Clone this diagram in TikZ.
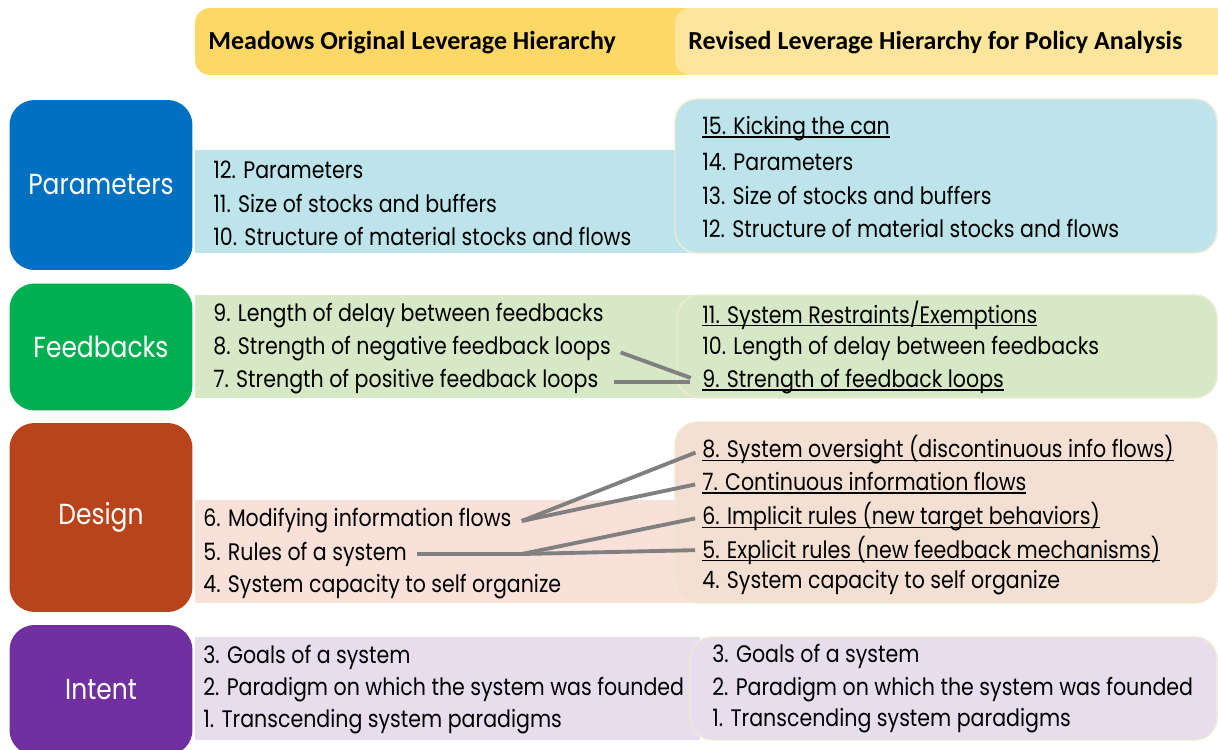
\documentclass[tikz,border=0pt]{standalone}
\usepackage{fontspec}
\setmainfont{Poppins}[FakeStretch=0.86]
\newfontfamily\headfont{Carlito}
\usepackage{xcolor}
\definecolor{ParamBlue}{HTML}{0070C0}
\definecolor{FeedGreen}{HTML}{00B050}
\definecolor{DesignRust}{HTML}{B9431A}
\definecolor{IntentPurple}{HTML}{7030A0}
\definecolor{HeadGold}{HTML}{FDD867}
\definecolor{HeadPale}{HTML}{FEE59C}
\definecolor{ParamBand}{HTML}{BDE4EA}
\definecolor{FeedBand}{HTML}{D6E8C5}
\definecolor{DesignBand}{HTML}{F9E1DA}
\definecolor{DesignBox}{HTML}{F4E0D2}
\definecolor{IntentBand}{HTML}{E6DDED}
\definecolor{BoxEdge}{HTML}{EEEAD3}
\definecolor{LinkGrey}{HTML}{808080}
\tikzstyle{catBox}=[rounded corners=0.5cm, minimum width=3.66cm, text=white, font=\fontsize{16.5}{20}\selectfont]
\tikzstyle{headBar}=[rounded corners=0.3cm]
\tikzstyle{revBox}=[draw=BoxEdge, line width=0.8pt, rounded corners=0.45cm]
\tikzstyle{item}=[anchor=west, inner sep=0pt, font=\fontsize{13.6}{16}\selectfont]
\tikzstyle{headText}=[anchor=west, inner sep=0pt, font=\headfont\bfseries\fontsize{14.8}{17}\selectfont]
\tikzstyle{link}=[draw=LinkGrey, line width=2.2pt]
% underline that sits just under the baseline
\newcommand{\changed}[1]{\setbox0\hbox{#1}\rlap{\rule[-1.6pt]{\wd0}{0.7pt}}\box0}

\begin{document}
\begin{tikzpicture}[x=0.02cm, y=-0.02cm]
    \useasboundingbox (0,0) rectangle (1218,750);

    % Column headings
    \fill[HeadGold, headBar] (195,8) rectangle (700,75);
    \fill[HeadPale, headBar] (675,8) rectangle (1230,75);
    \node[headText] (hOrig) at (208,43) {Meadows Original Leverage Hierarchy};
    \node[headText] (hRev) at (688,43) {Revised Leverage Hierarchy for Policy Analysis};

    % Parameters
    \node[catBox, fill=ParamBlue, minimum height=3.4cm] (cParam) at (101,185) {Parameters};
    \fill[ParamBand] (195,150) rectangle (700,253);
    \filldraw[revBox, fill=ParamBand] (675,99) rectangle (1217,253);
    \node[item] (o12) at (213,170) {12. Parameters};
    \node[item] (o11) at (213,203) {11. Size of stocks and buffers};
    \node[item] (o10) at (213,236) {10. Structure of material stocks and flows};
    \node[item] (r15) at (702,129) {\changed{15. Kicking the can}};
    \node[item] (r14) at (702,162) {14. Parameters};
    \node[item] (r13) at (702,195) {13. Size of stocks and buffers};
    \node[item] (r12) at (702,228) {12. Structure of material stocks and flows};

    % Feedbacks
    \node[catBox, fill=FeedGreen, minimum height=2.54cm] (cFeed) at (101,347) {Feedbacks};
    \fill[FeedBand] (195,295) rectangle (700,398);
    \filldraw[revBox, fill=FeedBand] (677,295) rectangle (1217,398);
    \node[item] (o9) at (213,316) {9. Length of delay between feedbacks};
    \node[item] (o8) at (213,349) {8. Strength of negative feedback loops};
    \node[item] (o7) at (213,382) {7. Strength of positive feedback loops};
    \node[item] (r11) at (702,315) {\changed{11. System Restraints/Exemptions}};
    \node[item] (r10) at (702,349) {10. Length of delay between feedbacks};
    \node[item] (r9) at (702,382) {\changed{9. Strength of feedback loops}};
    \draw[link, shorten <=0.2cm, shorten >=0.24cm] (o8.east) -- (r9.west);
    \draw[link, shorten <=0.3cm, shorten >=0.24cm] (o7.east) -- (r9.west);

    % Design
    \node[catBox, fill=DesignRust, minimum height=3.78cm] (cDesign) at (101,517.5) {Design};
    \fill[DesignBand] (195,500) rectangle (700,603);
    \filldraw[revBox, fill=DesignBox] (675,422) rectangle (1217,603);
    \node[item] (o6) at (203,521) {6. Modifying information flows};
    \node[item] (o5) at (203,554) {5. Rules of a system};
    \node[item] (o4) at (203,587) {4. System capacity to self organize};
    \node[item] (r8) at (702,450) {\changed{8. System oversight (discontinuous info flows)}};
    \node[item] (r7) at (702,483) {\changed{7. Continuous information flows}};
    \node[item] (r6) at (702,517) {\changed{6. Implicit rules (new target behaviors)}};
    \node[item] (r5) at (702,550) {\changed{5. Explicit rules (new feedback mechanisms)}};
    \node[item] (r4) at (702,583) {4. System capacity to self organize};
    \coordinate (j6) at ([xshift=0.2cm]o6.east);
    \coordinate (j5) at (j6 |- o5.east);
    \draw[link, shorten >=0.14cm] (j6) -- (r8.west);
    \draw[link, shorten >=0.14cm] (j6) -- (r7.west);
    \draw[link, shorten <=0.2cm] (o5.east) -- (j5);
    \draw[link, shorten >=0.14cm] (j5) -- (r6.west);
    \draw[link, shorten >=0.14cm] (j5) -- (r5.west);

    % Intent
    \node[catBox, fill=IntentPurple, minimum height=2.6cm] (cIntent) at (101,690) {Intent};
    \fill[IntentBand] (195,637) rectangle (700,740);
    \filldraw[revBox, fill=IntentBand] (690,637) rectangle (1217,740);
    \node[item] (o3) at (203,657) {3. Goals of a system};
    \node[item] (o2) at (203,690) {2. Paradigm on which the system was founded};
    \node[item] (o1) at (203,722) {1. Transcending system paradigms};
    \node[item] (r3) at (712,656) {3. Goals of a system};
    \node[item] (r2) at (712,690) {2. Paradigm on which the system was founded};
    \node[item] (r1) at (712,721) {1. Transcending system paradigms};

\end{tikzpicture}
\end{document}
